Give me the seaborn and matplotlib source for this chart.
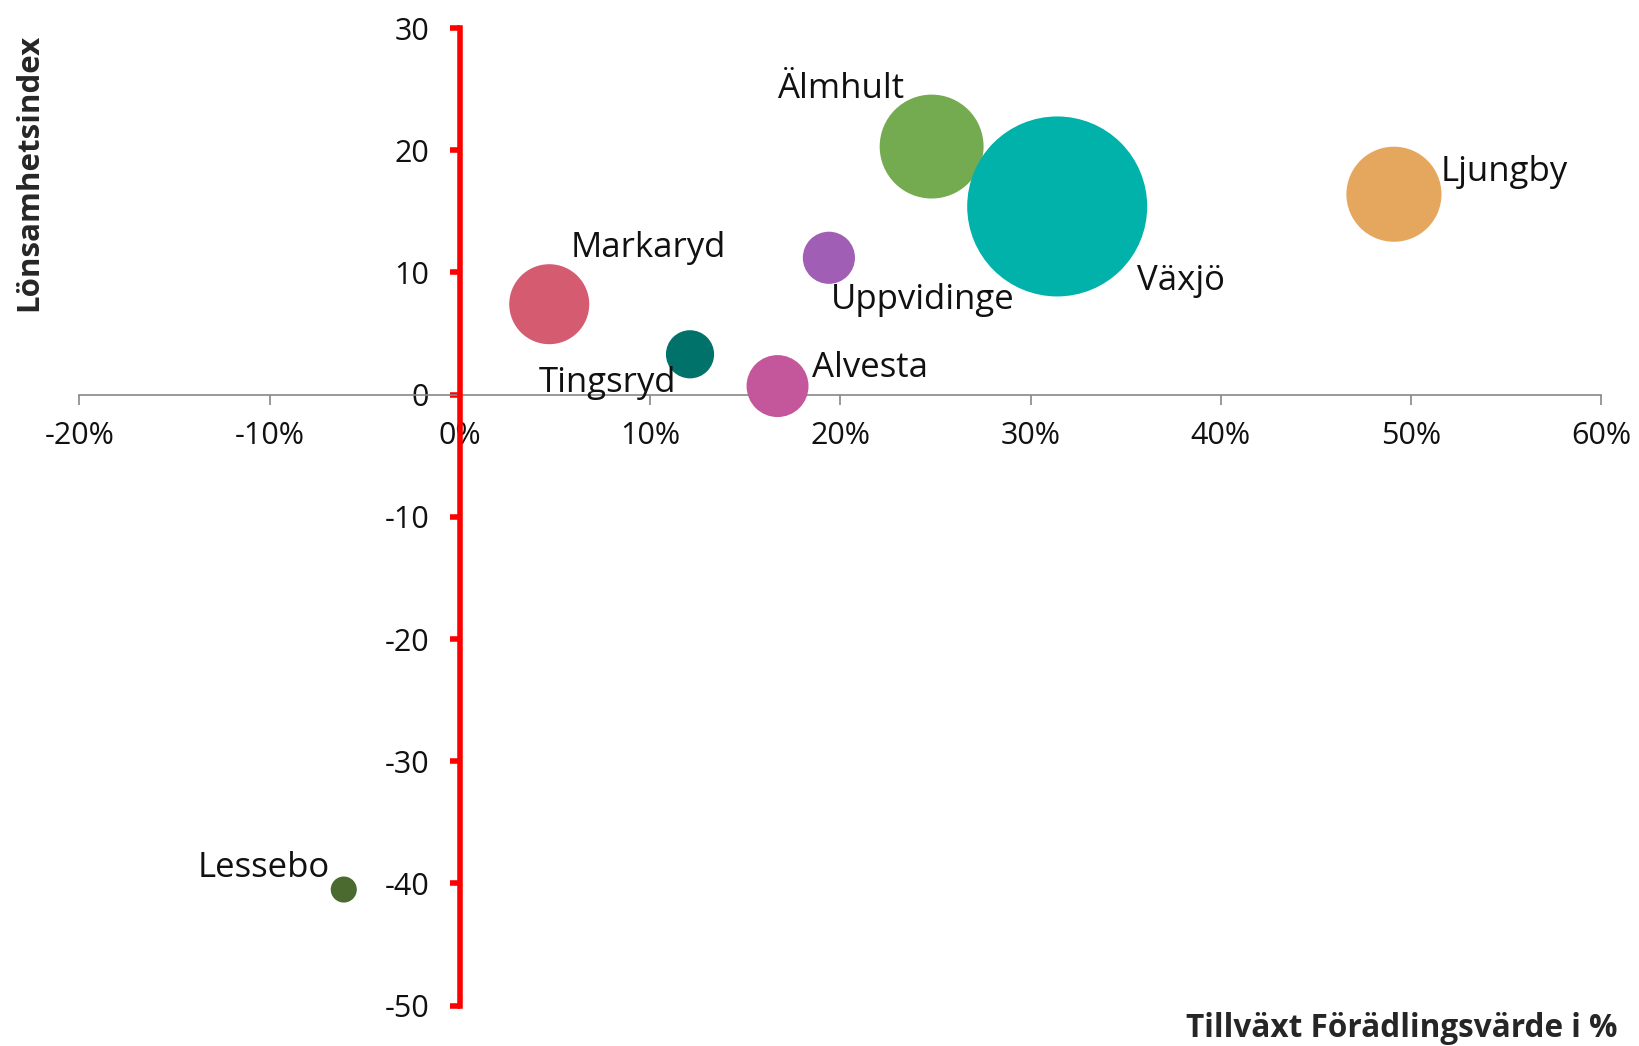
import matplotlib
matplotlib.use("Agg")
import matplotlib.pyplot as plt
import seaborn as sns
import pandas as pd
from matplotlib.ticker import FuncFormatter

kommun = ["Älmhult", "Växjö", "Ljungby", "Uppvidinge", "Markaryd", "Tingsryd", "Alvesta", "Lessebo"]
tillvaxt = [24.8, 31.4, 49.1, 19.4, 4.7, 12.1, 16.7, -6.1]
lonsamhet = [20.3, 15.4, 16.4, 11.2, 7.4, 3.3, 0.7, -40.5]
storlek = [2700, 8100, 2260, 680, 1600, 580, 960, 170]
farger = ["#75AB50", "#00B2A9", "#E5A75E", "#A05EB5", "#D45B70", "#00726A", "#C4579B", "#4A6A30"]

# label offsets in pixels (dx, dy, ha)
etiketter = {
    "Älmhult": (-27, 58, "right"),
    "Växjö": (80, -75, "left"),
    "Ljungby": (47, 22, "left"),
    "Uppvidinge": (2, -42, "left"),
    "Markaryd": (21, 56, "left"),
    "Tingsryd": (-14, -29, "right"),
    "Alvesta": (34, 18, "left"),
    "Lessebo": (-14, 22, "right"),
}

df = pd.DataFrame({"kommun": kommun, "tillvaxt": tillvaxt,
                   "lonsamhet": lonsamhet, "storlek": storlek})

sns.set_style("white")
plt.rcParams["font.family"] = ["Open Sans", "DejaVu Sans"]

fig = plt.figure(figsize=(16.39, 10.46), dpi=100)
ax = fig.add_axes([0.0484, 0.0386, 0.9286, 0.9346])

smax = max(storlek)
sns.scatterplot(data=df, x="tillvaxt", y="lonsamhet", hue="kommun",
                palette=dict(zip(kommun, farger)), size="storlek",
                size_norm=(0, smax), sizes=(0, 2.0736 * smax),
                linewidth=0, alpha=1, legend=False, ax=ax, zorder=3)

for k, x, y in zip(kommun, tillvaxt, lonsamhet):
    dx, dy, ha = etiketter[k]
    ax.annotate(k, (x, y), xytext=(dx, dy), textcoords="offset pixels",
                ha=ha, va="center", fontsize=25, color="#111111", zorder=4)

ax.set_xlim(-20, 60)
ax.set_ylim(-50, 30)
ax.set_xticks(range(-20, 61, 10))
ax.set_yticks(range(-50, 31, 10))
ax.xaxis.set_major_formatter(FuncFormatter(lambda v, p: f"{v:.0f}%"))
ax.yaxis.set_major_formatter(FuncFormatter(lambda v, p: f"{v:.0f}"))

for s in ["top", "right"]:
    ax.spines[s].set_visible(False)
ax.spines["left"].set_position(("data", 0))
ax.spines["bottom"].set_position(("data", 0))
ax.spines["left"].set_color("#FF0000")
ax.spines["left"].set_linewidth(4)
ax.spines["bottom"].set_color("#888888")
ax.spines["bottom"].set_linewidth(1.2)
ax.spines["left"].set_zorder(5)

ax.tick_params(axis="y", left=True, direction="out", length=7, width=4, color="#FF0000",
               labelsize=22, pad=15, labelcolor="#111111")
ax.tick_params(axis="x", bottom=True, direction="out", length=7, width=1.2, color="#888888",
               labelsize=22, pad=12, labelcolor="#111111")
ax.set_xlabel("")
ax.set_ylabel("")

fig.text(0.987, 0.017, "Tillväxt Förädlingsvärde i %", ha="right", va="center",
         fontsize=22.7, fontweight="bold")
fig.text(0.018, 0.968, "Lönsamhetsindex", ha="center", va="top", rotation=90,
         fontsize=22.5, fontweight="bold")

fig.savefig("out.png", dpi=100)
